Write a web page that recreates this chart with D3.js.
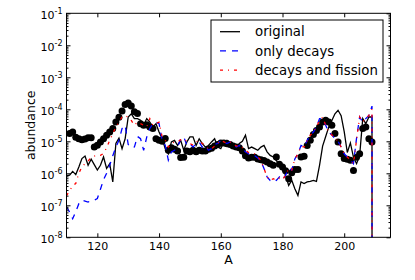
<!DOCTYPE html>
<html>
<head>
<meta charset="utf-8">
<script src="https://cdn.jsdelivr.net/npm/d3@7"></script>
<style>
    body { margin: 0; background: #fff; }
    svg { display: block; font-family: "DejaVu Sans", sans-serif; }
</style>
</head>
<body>
<div id="chart"></div>
<script>
// mass numbers A for the three model curves (110 .. 210)
const massNumbers = d3.range(110, 211)

// curves, stored as log10(abundance); null = zero abundance
const logOriginal = [
    -6.08, -6.06, -5.94, -6.04, -5.8, -5.54, -5.46, -5.75, -5.56, -5.73,
    -5.9, -5.75, -5.49, -5.85, -5.7, -6.27, -5.07, -4.9, -5.23, -4.92,
    -4.24, -4.14, -4.29, -4.29, -4.34, -4.5, -4.29, -4.4, -4.55, -4.45,
    -4.71, -4.92, -5.23, -5.39, -5.02, -4.97, -5.13, -4.97, -5.28, -5.02,
    -4.86, -4.86, -5.13, -4.92, -5.07, -5.18, -5.13, -5.02, -4.92, -5.18,
    -5.23, -5.02, -4.97, -5.02, -5.1, -5.18, -5.07, -5.0, -4.81, -5.23,
    -5.18, -5.23, -5.28, -5.18, -5.13, -5.33, -5.44, -5.49, -5.6, -5.75,
    -5.9, -6.06, -6.38, -6.22, -6.48, -6.69, -6.27, -6.32, -6.27, -6.25,
    -6.22, -6.25, -5.75, -5.15, -4.85, -4.55, -4.35, -4.14, -4.03, -4.2,
    -4.7, -5.35, -5.05, -5.5, -5.7, -5.45, -4.29, -4.45, -4.24, -4.24,
    null,
]

const logOnlyDecays = [
    -7.05, -7.21, -7.42, -7.2, -6.95, -6.84, -6.87, -6.9, -6.85, -6.84,
    -6.79, -6.5, -6.2, -6.0, -5.75, -5.45, -5.18, -4.97, -4.6, -4.5,
    -5.1, -5.2, -5.18, -4.85, -4.92, -5.28, -4.87, -4.6, -4.45, -4.4,
    -4.45, -4.97, -5.12, -5.59, -5.33, -5.28, -5.18, -4.92, -4.86, -5.12,
    -5.07, -5.18, -5.07, -5.02, -5.18, -5.13, -5.28, -5.23, -5.1, -5.07,
    -4.97, -5.02, -5.07, -5.02, -5.07, -5.18, -5.13, -5.23, -5.33, -5.39,
    -5.39, -5.45, -5.52, -5.62, -5.85, -6.11, -6.22, -6.17, -6.22, -6.11,
    -6.2, -6.06, -5.85, -5.9, -5.55, -5.39, -5.13, -5.18, -4.97, -4.81,
    -4.71, -4.55, -4.29, -4.3, -4.5, -4.72, -4.8, -4.92, -5.0, -5.18,
    -5.39, -5.49, -5.59, -5.7, -4.9, -4.24, -4.4, -4.29, -4.19, -3.9,
    null,
]

const logDecaysFission = [
    -6.7, -6.55, -6.38, -6.32, -6.0, -5.8, -5.7, -5.62, -5.5, -5.46,
    -5.44, -5.44, -5.38, -5.2, -4.97, -4.76, -4.55, -4.4, -4.24, -4.19,
    -4.25, -4.35, -4.5, -4.4, -4.45, -4.5, -4.55, -4.29, -4.5, -4.45,
    -4.4, -4.86, -4.97, -5.18, -5.07, -5.02, -5.02, -4.95, -4.92, -5.0,
    -5.07, -5.12, -5.02, -4.97, -5.07, -5.12, -5.25, -5.23, -5.15, -5.07,
    -4.97, -5.02, -5.07, -5.02, -5.07, -5.15, -5.13, -5.2, -5.28, -5.35,
    -5.39, -5.39, -5.49, -5.59, -5.85, -6.11, -6.22, -6.17, -6.22, -6.15,
    -6.2, -6.06, -5.85, -5.9, -5.55, -5.4, -5.15, -5.18, -4.97, -4.81,
    -4.71, -4.55, -4.35, -4.25, -4.5, -4.72, -4.8, -4.9, -5.0, -5.18,
    -5.39, -5.49, -5.59, -5.7, -4.95, -4.24, -4.4, -4.29, -4.19, -4.0,
    null,
]

// observed abundances (black dots), A = 111 .. 209
const dotMass = d3.range(111, 210)
const logObserved = [
    -4.76, -4.71, -4.87, -4.92, -4.95, -4.93, -4.89, -4.89, -5.18,
    -5.12, -5.02, -4.92, -4.81, -4.71, -4.6, -4.4, -4.25, -4.05, -3.85,
    -3.8, -3.9, -4.08, -4.13, -4.45, -4.5, -4.48, -4.55, -4.6, -4.92,
    -4.97, -5.0, -4.91, -5.28, -5.2, -5.25, -5.3, -5.51, -5.5, -5.3,
    -5.33, -5.28, -5.33, -5.28, -5.3, -5.3, -5.25, -5.22, -5.15, -5.1,
    -5.05, -5.05, -5.08, -5.1, -5.15, -5.18, -5.2, -5.3, -5.45, -5.52,
    -5.5, -5.5, -5.55, -5.58, -5.6, -5.65, -5.7, -5.75, -5.49, -5.72,
    -5.8, -5.92, -6.17, -5.98, -5.88, -5.88, -5.49, -5.47, -5.13, -4.97,
    -4.79, -4.66, -4.55, -4.4, -4.34, -4.4, -4.5, -4.76, -5.02, -5.39,
    -5.54, -5.56, -5.59, -5.91, -5.5, -5.39, -4.6, -4.55, -4.92, -5.02,
]

const xTicks = [120, 140, 160, 180, 200]
const yExponents = [-8, -7, -6, -5, -4, -3, -2, -1]

const seriesNames = ["original", "only decays", "decays and fission"]
const seriesColors = ["black", "blue", "red"]
const seriesDashes = [null, "6,6", "3,5,1,5"]
const seriesData = [logOriginal, logOnlyDecays, logDecaysFission]

const width = 415
const height = 280
const plotLeft = 66.5
const plotRight = 390.5
const plotTop = 13.3
const plotBottom = 237.3

// zero abundance is clipped to a tiny value like a log axis does
const toValue = (v) => (v === null ? 1e-300 : Math.pow(10, v))

const x = d3.scaleLinear().domain([110, 215]).range([plotLeft, plotRight])
const y = d3.scaleLog().domain([1e-8, 1e-1]).range([plotBottom, plotTop])

const svg = d3
    .select("#chart")
    .append("svg")
    .attr("width", width)
    .attr("height", height)
    .attr("viewBox", [0, 0, width, height])

svg.append("defs")
    .append("clipPath")
    .attr("id", "plot-clip")
    .append("rect")
    .attr("x", plotLeft)
    .attr("y", plotTop)
    .attr("width", plotRight - plotLeft)
    .attr("height", plotBottom - plotTop)

const plot = svg.append("g").attr("clip-path", "url(#plot-clip)")

plot.append("g")
    .selectAll("circle")
    .data(logObserved)
    .join("circle")
    .attr("cx", (d, i) => x(dotMass[i]))
    .attr("cy", (d) => y(toValue(d)))
    .attr("r", 3.5)
    .attr("fill", "black")

const line = d3
    .line()
    .x((d, i) => x(massNumbers[i]))
    .y((d) => y(toValue(d)))

seriesData.forEach((data, k) => {
    plot.append("path")
        .datum(data)
        .attr("d", line)
        .attr("fill", "none")
        .attr("stroke", seriesColors[k])
        .attr("stroke-width", 1.3)
        .attr("stroke-dasharray", seriesDashes[k])
})

// axes: ticks point inward on all four sides
const majorY = yExponents.map((e) => Math.pow(10, e))
const minorY = []
yExponents.slice(0, -1).forEach((e) => {
    for (let m = 2; m <= 9; m++) minorY.push(m * Math.pow(10, e))
})

const styleAxis = (g) => {
    g.select(".domain").remove()
    g.selectAll("line").attr("stroke", "black").attr("stroke-width", 1)
}

svg.append("g")
    .attr("transform", `translate(0,${plotBottom})`)
    .call(
        d3.axisBottom(x).tickValues(xTicks).tickSizeInner(-4)
            .tickSizeOuter(0).tickPadding(4.6).tickFormat(d3.format("d")),
    )
    .call(styleAxis)
    .call((g) => g.selectAll("text").attr("font-size", 11)
        .attr("font-family", "DejaVu Sans").attr("fill", "black"))

svg.append("g")
    .attr("transform", `translate(0,${plotTop})`)
    .call(d3.axisTop(x).tickValues(xTicks).tickSizeInner(-4)
        .tickSizeOuter(0).tickFormat(""))
    .call(styleAxis)

const leftAxis = svg
    .append("g")
    .attr("transform", `translate(${plotLeft},0)`)
    .call(d3.axisLeft(y).tickValues(majorY).tickSizeInner(-4)
        .tickSizeOuter(0).tickPadding(4))
    .call(styleAxis)

leftAxis.selectAll("text").each(function (d) {
    const t = d3.select(this)
    t.text(null)
        .attr("font-size", 11)
        .attr("font-family", "DejaVu Sans")
        .attr("fill", "black")
        .attr("dy", "0.5em")
    t.append("tspan").text("10")
    t.append("tspan")
        .attr("font-size", 8)
        .attr("dy", -5.5)
        .text(String(Math.round(Math.log10(d))))
})

svg.append("g")
    .attr("transform", `translate(${plotLeft},0)`)
    .call(d3.axisLeft(y).tickValues(minorY).tickSizeInner(-2)
        .tickSizeOuter(0).tickFormat(""))
    .call(styleAxis)

svg.append("g")
    .attr("transform", `translate(${plotRight},0)`)
    .call(d3.axisRight(y).tickValues(majorY).tickSizeInner(-4)
        .tickSizeOuter(0).tickFormat(""))
    .call(styleAxis)

svg.append("g")
    .attr("transform", `translate(${plotRight},0)`)
    .call(d3.axisRight(y).tickValues(minorY).tickSizeInner(-2)
        .tickSizeOuter(0).tickFormat(""))
    .call(styleAxis)

// frame
svg.append("rect")
    .attr("x", plotLeft)
    .attr("y", plotTop)
    .attr("width", plotRight - plotLeft)
    .attr("height", plotBottom - plotTop)
    .attr("fill", "none")
    .attr("stroke", "black")
    .attr("stroke-width", 1)

// axis titles
svg.append("text")
    .attr("x", (plotLeft + plotRight) / 2)
    .attr("y", 263.5)
    .attr("text-anchor", "middle")
    .attr("font-size", 12.5)
    .text("A")

svg.append("text")
    .attr("transform", `translate(35,${(plotTop + plotBottom) / 2}) rotate(-90)`)
    .attr("text-anchor", "middle")
    .attr("font-size", 12.5)
    .text("abundance")

// legend
const legend = svg.append("g").attr("transform", "translate(211,20)")

legend.append("rect")
    .attr("width", 172)
    .attr("height", 62)
    .attr("fill", "white")
    .attr("stroke", "black")
    .attr("stroke-width", 1)

const entry = legend
    .selectAll("g.entry")
    .data(seriesNames)
    .join("g")
    .attr("class", "entry")
    .attr("transform", (d, i) => `translate(0,${11.7 + i * 19.2})`)

entry.append("line")
    .attr("x1", 9)
    .attr("x2", 29)
    .attr("stroke", (d, i) => seriesColors[i])
    .attr("stroke-width", 1.3)
    .attr("stroke-dasharray", (d, i) => seriesDashes[i])

entry.append("text")
    .attr("x", 44)
    .attr("dy", "0.35em")
    .attr("font-size", 13.3)
    .text((d) => d)
</script>
</body>
</html>
